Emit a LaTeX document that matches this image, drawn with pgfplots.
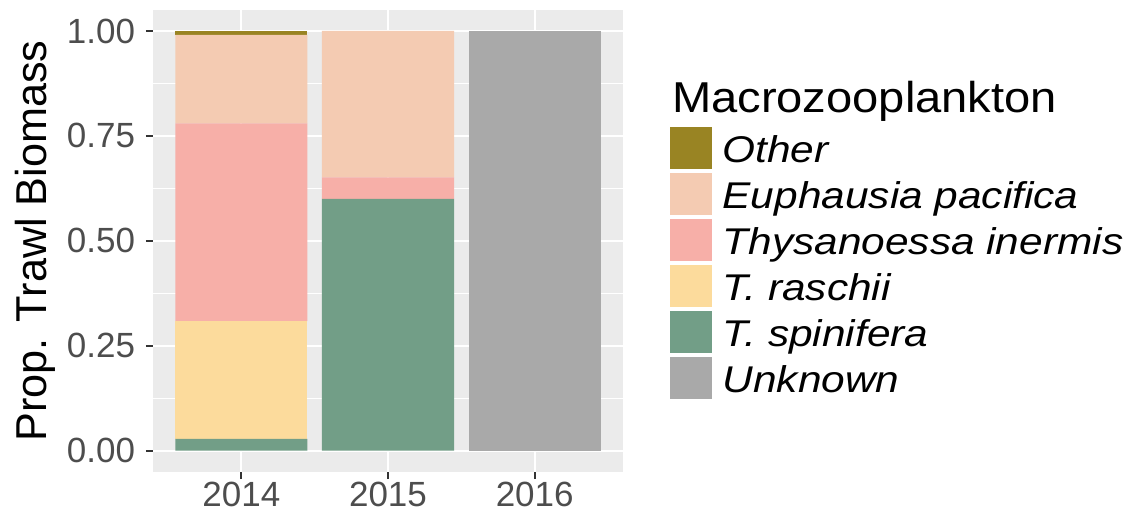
\documentclass[border=0pt]{standalone}
\usepackage{fontspec}
\setmainfont{Liberation Sans}
\newfontfamily\legfont[FakeStretch=1.14]{Liberation Sans}
\usepackage{graphicx}
\usepackage{pgfplots}
\pgfplotsset{compat=1.18}
\definecolor{cOther}{HTML}{998423}
\definecolor{cEuph}{HTML}{F4CBB2}
\definecolor{cThys}{HTML}{F7AFA8}
\definecolor{cRas}{HTML}{FCDB9C}
\definecolor{cSpin}{HTML}{729E87}
\definecolor{cUnk}{HTML}{A9A9A9}
\definecolor{bgc}{HTML}{EBEBEB}
\definecolor{tickc}{HTML}{333333}
\definecolor{labc}{HTML}{4D4D4D}
\begin{document}
\begin{tikzpicture}
\useasboundingbox (0,0) rectangle (564pt,257pt);
\begin{axis}[
  at={(76.65pt,21.15pt)}, anchor=south west,
  width=234.7pt, height=230.85pt, scale only axis,
  xmin=0.4, xmax=3.6, ymin=-0.05, ymax=1.05,
  ybar stacked, bar width=0.9,
  clip=false,
  axis background/.style={fill=bgc},
  axis line style={draw=none},
  xtick={1,2,3}, xticklabels={2014,2015,2016},
  ytick={0,0.25,0.5,0.75,1},
  minor ytick={0.125,0.375,0.625,0.875},
  xmajorgrids, ymajorgrids, yminorgrids,
  major grid style={white, line width=1.1pt},
  minor grid style={white, line width=0.55pt},
  tick align=outside, xtick pos=bottom, ytick pos=left,
  major tick length=3.75pt, minor tick length=0pt,
  major tick style={draw=tickc, line width=1.1pt},
  /pgf/number format/assume math mode=true,
  yticklabel style={/pgf/number format/.cd, fixed, fixed zerofill, precision=2, /tikz/.cd,
     font=\fontsize{17.5}{21}\selectfont, text=labc, inner sep=0pt, anchor=east, xshift=-5.15pt},
  xticklabel style={font=\fontsize{17.5}{21}\selectfont, text=labc, inner sep=0pt, anchor=north, yshift=-1.4pt},
  ylabel={Prop. Trawl Biomass},
  every axis y label/.style={at={(axis description cs:-0.227,0.5)}, rotate=90, anchor=base,
     font=\fontsize{21.6}{26}\selectfont, inner sep=0pt},
  legend image code/.code={\fill[#1,draw=none] (0pt,-9.3pt) rectangle (21pt,11.7pt); \path (26.3pt,0pt);},
  reverse legend,
  legend cell align=left,
  legend style={draw=none, fill=none, inner sep=0pt, outer sep=0pt,
     at={(axis description cs:1.1008,0.7459)}, anchor=north west,
     font=\fontsize{18.6}{22}\legfont\itshape, row sep=2pt,
     nodes={inner sep=0pt}},
]
\addplot[fill=cUnk, draw=none] coordinates {(1,0) (2,0) (3,1.00)};
\addlegendentry{Unknown}
\addplot[fill=cSpin, draw=none] coordinates {(1,0.028) (2,0.600) (3,0)};
\addlegendentry{T. spinifera}
\addplot[fill=cRas, draw=none] coordinates {(1,0.281) (2,0) (3,0)};
\addlegendentry{T. raschii}
\addplot[fill=cThys, draw=none] coordinates {(1,0.471) (2,0.051) (3,0)};
\addlegendentry{Thysanoessa inermis}
\addplot[fill=cEuph, draw=none] coordinates {(1,0.211) (2,0.349) (3,0)};
\addlegendentry{Euphausia pacifica}
\addplot[fill=cOther, draw=none] coordinates {(1,0.009) (2,0) (3,0)};
\addlegendentry{Other}
\node[anchor=base west, inner sep=0pt, font=\fontsize{21.6}{26}\selectfont] at (axis description cs:1.1044,0.7776) {\resizebox{192.5pt}{\height}{Macrozooplankton}};
\end{axis}
\end{tikzpicture}
\end{document}
